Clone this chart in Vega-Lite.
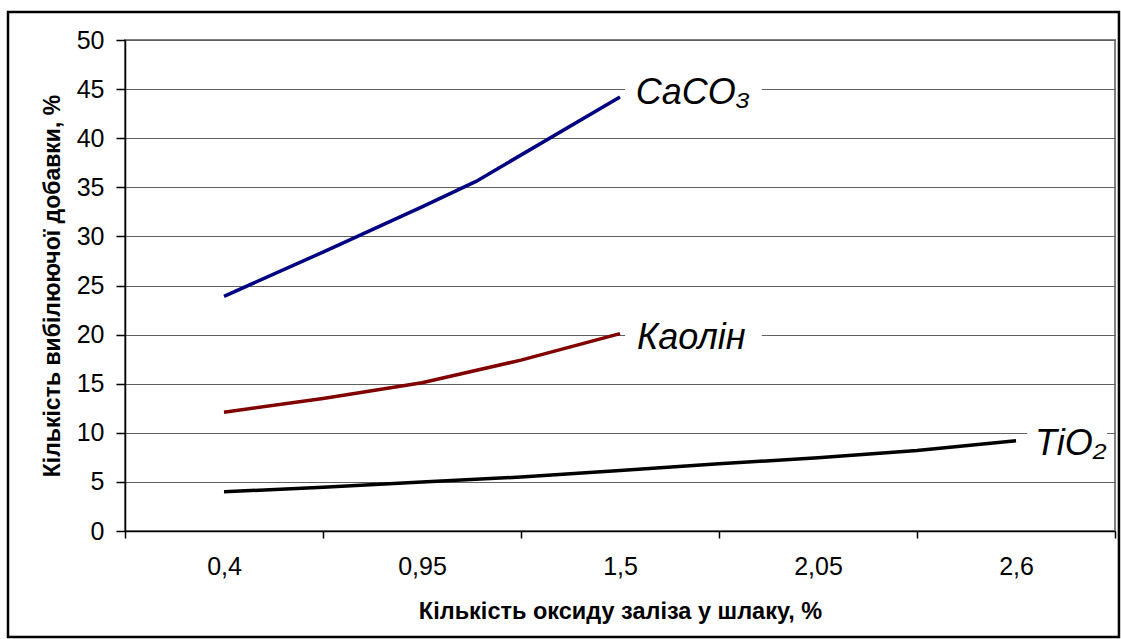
{
  "$schema": "https://vega.github.io/schema/vega-lite/v6.json",
  "width": 990,
  "height": 491,
  "autosize": "none",
  "padding": {"left": 125, "top": 40, "right": 6, "bottom": 108},
  "background": "white",
  "config": {
    "view": {"stroke": "#808080", "strokeWidth": 2},
    "font": "Liberation Sans"
  },
  "datasets": {
    "lines": [
      {"series": "CaCO3", "x": 0.4, "y": 23.9},
      {"series": "CaCO3", "x": 0.675, "y": 28.4},
      {"series": "CaCO3", "x": 0.95, "y": 33.0},
      {"series": "CaCO3", "x": 1.1, "y": 35.6},
      {"series": "CaCO3", "x": 1.5, "y": 44.2},
      {"series": "Kaolin", "x": 0.4, "y": 12.1},
      {"series": "Kaolin", "x": 0.675, "y": 13.5},
      {"series": "Kaolin", "x": 0.95, "y": 15.1},
      {"series": "Kaolin", "x": 1.225, "y": 17.4},
      {"series": "Kaolin", "x": 1.5, "y": 20.1},
      {"series": "TiO2", "x": 0.4, "y": 4.0},
      {"series": "TiO2", "x": 0.675, "y": 4.45},
      {"series": "TiO2", "x": 0.95, "y": 5.0},
      {"series": "TiO2", "x": 1.225, "y": 5.5},
      {"series": "TiO2", "x": 1.5, "y": 6.15},
      {"series": "TiO2", "x": 1.775, "y": 6.85},
      {"series": "TiO2", "x": 2.05, "y": 7.45},
      {"series": "TiO2", "x": 2.325, "y": 8.2},
      {"series": "TiO2", "x": 2.6, "y": 9.2}
    ],
    "labels": [
      {"label": "CaCO₃", "x": 1.544, "y": 43.5, "bx1": 1.514, "bx2": 1.894, "by1": 41.5, "by2": 47.8},
      {"label": "Каолін", "x": 1.547, "y": 18.5, "bx1": 1.514, "bx2": 1.894, "by1": 17.0, "by2": 23.0},
      {"label": "TiO₂", "x": 2.653, "y": 7.74, "bx1": 2.631, "bx2": 2.853, "by1": 6.5, "by2": 12.0}
    ]
  },
  "layer": [
    {
      "data": {"name": "lines"},
      "mark": {"type": "line", "strokeCap": "butt"},
      "encoding": {
        "x": {
          "field": "x",
          "type": "quantitative",
          "scale": {"domain": [0.125, 2.875], "nice": false, "zero": false},
          "axis": {
            "title": "Кількість оксиду заліза у шлаку, %",
            "titleFont": "Liberation Sans",
            "titleFontSize": 23.5,
            "titleFontWeight": "bold",
            "titleColor": "black",
            "titlePadding": 20,
            "values": [0.125, 0.4, 0.675, 0.95, 1.225, 1.5, 1.775, 2.05, 2.325, 2.6, 2.875],
            "format": ".3~f",
            "labelExpr": "(datum.label == '0.4' || datum.label == '0.95' || datum.label == '1.5' || datum.label == '2.05' || datum.label == '2.6') ? replace(datum.label, '.', ',') : ''",
            "labelOverlap": false,
            "labelFlush": false,
            "labelFontSize": 25,
            "labelColor": "black",
            "labelPadding": 16,
            "tickSize": 7,
            "tickColor": "black",
            "tickWidth": 1.5,
            "tickOpacity": {"condition": {"test": "datum.value == 0.4 || datum.value == 0.95 || datum.value == 1.5 || datum.value == 2.05 || datum.value == 2.6", "value": 0}, "value": 1},
            "domainColor": "black",
            "domainWidth": 1.5,
            "grid": false
          }
        },
        "y": {
          "field": "y",
          "type": "quantitative",
          "scale": {"domain": [0, 50], "nice": false},
          "axis": {
            "title": "Кількість вибілюючої добавки, %",
            "titleFont": "Liberation Sans",
            "titleFontSize": 23,
            "titleFontWeight": "bold",
            "titleColor": "black",
            "titlePadding": 12,
            "values": [0, 5, 10, 15, 20, 25, 30, 35, 40, 45, 50],
            "labelFontSize": 25,
            "labelColor": "black",
            "labelPadding": 12,
            "tickSize": 9,
            "tickColor": "black",
            "tickWidth": 1.5,
            "domainColor": "black",
            "domainWidth": 1.5,
            "grid": true,
            "gridColor": "#606060",
            "gridWidth": 1.2
          }
        },
        "color": {
          "field": "series",
          "type": "nominal",
          "scale": {"domain": ["CaCO3", "Kaolin", "TiO2"], "range": ["#000080", "#800000", "#000000"]},
          "legend": null
        },
        "strokeWidth": {
          "field": "series",
          "type": "nominal",
          "scale": {"domain": ["CaCO3", "Kaolin", "TiO2"], "range": [3.5, 3.5, 4.5]},
          "legend": null
        }
      }
    },
    {
      "data": {"name": "labels"},
      "mark": {"type": "rect", "fill": "white", "stroke": null},
      "encoding": {
        "x": {"field": "bx1", "type": "quantitative"},
        "x2": {"field": "bx2"},
        "y": {"field": "by1", "type": "quantitative"},
        "y2": {"field": "by2"}
      }
    },
    {
      "data": {"name": "labels"},
      "mark": {"type": "text", "align": "left", "baseline": "alphabetic", "font": "Liberation Sans", "fontStyle": "italic", "fontSize": 36, "color": "black"},
      "encoding": {
        "x": {"field": "x", "type": "quantitative"},
        "y": {"field": "y", "type": "quantitative"},
        "text": {"field": "label"}
      }
    },
    {
      "data": {"values": [{}]},
      "mark": {"type": "rect", "filled": false, "stroke": "black", "strokeWidth": 2.5},
      "encoding": {
        "x": {"datum": -0.2},
        "x2": {"datum": 2.886},
        "y": {"datum": 52.85},
        "y2": {"datum": -10.8}
      }
    }
  ]
}
